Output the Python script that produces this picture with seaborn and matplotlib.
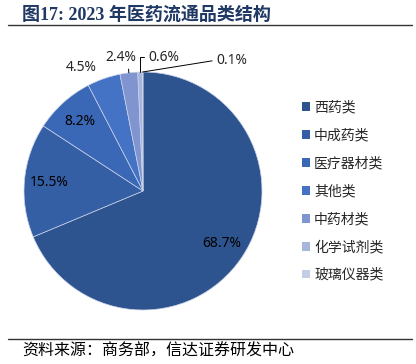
import numpy as np
import matplotlib
matplotlib.use("Agg")
import matplotlib.pyplot as plt
import seaborn as sns
from matplotlib.lines import Line2D
from matplotlib.patches import Patch

categories = ["西药类", "中成药类", "医疗器材类", "其他类", "中药材类", "化学试剂类", "玻璃仪器类"]
values = [68.7, 15.5, 8.2, 4.5, 2.4, 0.6, 0.1]
labels = ["68.7%", "15.5%", "8.2%", "4.5%", "2.4%", "0.6%", "0.1%"]
colors = ["#2E5490", "#355FA5", "#3A68B6", "#4472C4", "#8095D0", "#A6B5DC", "#C5CDE6"]
title = "图17: 2023 年医药流通品类结构"
source = "资料来源：商务部，信达证券研发中心"

sns.set_theme(style="white")
plt.rcParams["font.family"] = ["Noto Sans", "Noto Sans CJK SC", "DejaVu Sans"]

W, H = 416, 364
fig = plt.figure(figsize=(W / 100, H / 100), dpi=100)

cx, cy, r = 143, 191, 119
ax = fig.add_axes([(cx - r) / W, 1 - (cy + r) / H, 2 * r / W, 2 * r / H])
wedges, _ = ax.pie(values, colors=colors, startangle=90, counterclock=False,
                   radius=1, wedgeprops=dict(edgecolor="#C9D3EA", linewidth=0.5))
ax.set_xlim(-1, 1)
ax.set_ylim(-1, 1)
ax.set_aspect("equal")
ax.axis("off")

def mid(w):
    a = np.deg2rad((w.theta1 + w.theta2) / 2)
    return np.cos(a), np.sin(a)

fs = 10
lab_font = ["Noto Sans", "DejaVu Sans"]
# inside labels
for i in range(3):
    x, y = mid(wedges[i])
    ax.text(0.79 * x, 0.79 * y, labels[i], ha="center", va="center",
            fontsize=fs, color="black", family=lab_font)
# 4.5% outside without leader
x, y = mid(wedges[3])
ax.text(1.1 * x - 0.03, 1.1 * y, labels[3], ha="right", va="center", fontsize=fs,
        family=lab_font, clip_on=False)

ty = 1.126
# 2.4%
x, y = mid(wedges[4])
ax.annotate(labels[4], xy=(x, y), xytext=(x - 0.07, ty), ha="center", va="center",
            fontsize=fs, family=lab_font, annotation_clip=False,
            arrowprops=dict(arrowstyle="-", color="black", lw=0.7, shrinkA=1, shrinkB=0,
                            relpos=(0.75, 0), connectionstyle="arc3"))
# 0.6%
x, y = mid(wedges[5])
ax.annotate(labels[5], xy=(x, y), xytext=(0.045, ty), ha="left", va="center",
            fontsize=fs, family=lab_font, annotation_clip=False,
            arrowprops=dict(arrowstyle="-", color="black", lw=0.7, shrinkA=1, shrinkB=0,
                            relpos=(0, 0.5),
                            connectionstyle="angle,angleA=180,angleB=90,rad=0"))
# 0.1%
x, y = mid(wedges[6])
ax.annotate(labels[6], xy=(x, y), xytext=(0.62, 1.1), ha="left", va="center",
            fontsize=fs, family=lab_font, annotation_clip=False,
            arrowprops=dict(arrowstyle="-", color="black", lw=0.7, shrinkA=1, shrinkB=0,
                            relpos=(0, 0.5), connectionstyle="arc3"))

# legend
handles = [Patch(facecolor=c, edgecolor="none") for c in colors]
fig.legend(handles, categories, loc="upper left", bbox_to_anchor=(296 / W, 1 - 95 / H),
           frameon=False, handlelength=0.6, handleheight=0.6,
           handletextpad=0.3, labelspacing=1.0, borderaxespad=0,
           prop=dict(family=["Noto Sans CJK SC"], size=10))

# title
fig.text(22 / W, 1 - 15 / H, title, ha="left", va="center", fontsize=13,
         fontweight="bold", color="#1F3864",
         family=["Liberation Serif", "Noto Sans CJK SC"])
fig.add_artist(Line2D([8 / W, 412 / W], [1 - 25 / H, 1 - 25 / H], color="#333333", lw=1))

# source
fig.add_artist(Line2D([8 / W, 412 / W], [1 - 339 / H, 1 - 339 / H], color="#333333", lw=1))
fig.text(22 / W, 1 - 351 / H, source, ha="left", va="center", fontsize=11.5,
         color="black", family=["Noto Sans CJK SC"], style="italic")

fig.savefig("out.png", dpi=100)
